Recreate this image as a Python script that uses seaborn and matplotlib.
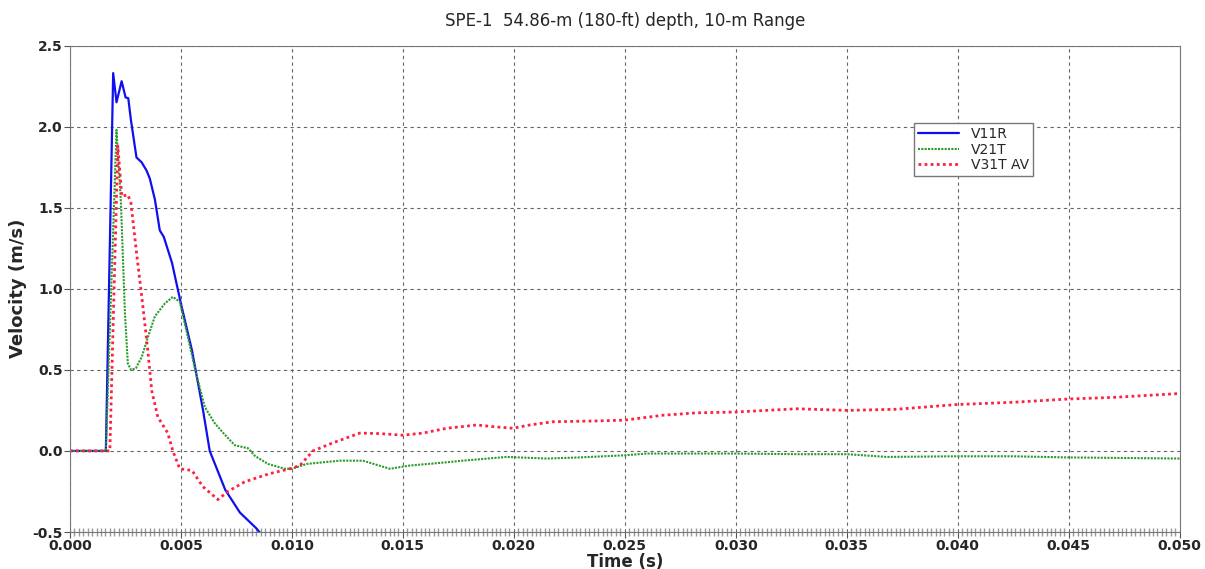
import numpy as np
import pandas as pd
import matplotlib
matplotlib.use('Agg')
import matplotlib.pyplot as plt
import seaborn as sns
from matplotlib.ticker import FormatStrFormatter, MultipleLocator

# V11R (blue)
t_v11r = [0.0, 0.00162, 0.00195, 0.0021, 0.00233, 0.00251, 0.00263, 0.00275, 0.0030, 0.00323,
          0.00345, 0.0036, 0.00383, 0.00405, 0.00423, 0.0046, 0.0050, 0.0055, 0.0060, 0.0063,
          0.0070, 0.00766, 0.00842, 0.00865, 0.00923]
v_v11r = [0.0, 0.0, 2.33, 2.15, 2.28, 2.18, 2.175, 2.04, 1.81, 1.78,
          1.73, 1.68, 1.55, 1.36, 1.32, 1.16, 0.91, 0.62, 0.25, 0.0,
          -0.24, -0.38, -0.48, -0.52, -0.65]

# V21T (green)
t_v21t = [0.0, 0.00162, 0.0021, 0.0023, 0.00248, 0.00261, 0.00275, 0.00297, 0.00324, 0.00351,
          0.00383, 0.00428, 0.00464, 0.00495, 0.00532, 0.00568, 0.00608, 0.00653, 0.00698, 0.00743,
          0.00802, 0.00833, 0.00892, 0.00968, 0.0100, 0.01068, 0.01216, 0.0132, 0.01441, 0.01532,
          0.01698, 0.0177, 0.01968, 0.02149, 0.02297, 0.0250, 0.0260, 0.0300, 0.03275, 0.0350,
          0.0368, 0.03995, 0.04248, 0.04495, 0.0500]
v_v21t = [0.0, 0.0, 1.98, 1.53, 0.85, 0.54, 0.50, 0.51, 0.58, 0.70,
          0.83, 0.91, 0.95, 0.92, 0.70, 0.48, 0.27, 0.17, 0.10, 0.035,
          0.017, -0.03, -0.08, -0.11, -0.11, -0.08, -0.06, -0.06, -0.11, -0.09,
          -0.07, -0.06, -0.037, -0.047, -0.04, -0.027, -0.016, -0.016, -0.02, -0.02,
          -0.037, -0.033, -0.033, -0.04, -0.047]

# V31T AV (red)
t_v31t = [0.0, 0.0018, 0.00216, 0.00234, 0.00261, 0.00275, 0.00302, 0.00324, 0.00351, 0.00369,
          0.00396, 0.00441, 0.00464, 0.00495, 0.0055, 0.00599, 0.00667, 0.00712, 0.00788, 0.0090,
          0.00991, 0.01036, 0.01095, 0.01185, 0.01306, 0.01396, 0.0150, 0.0159, 0.01698, 0.01833,
          0.01905, 0.01995, 0.02072, 0.02176, 0.02374, 0.0250, 0.02671, 0.02824, 0.0300, 0.03275,
          0.0350, 0.03725, 0.03995, 0.04248, 0.04495, 0.04698, 0.0500]
v_v31t = [0.0, 0.0, 1.88, 1.57, 1.58, 1.53, 1.20, 0.95, 0.62, 0.37,
          0.21, 0.11, 0.0, -0.11, -0.12, -0.22, -0.30, -0.25, -0.19, -0.14,
          -0.11, -0.09, 0.0, 0.05, 0.11, 0.107, 0.097, 0.11, 0.14, 0.16,
          0.15, 0.14, 0.16, 0.18, 0.185, 0.19, 0.22, 0.235, 0.24, 0.26,
          0.25, 0.257, 0.286, 0.30, 0.32, 0.33, 0.354]

sns.set_style('white')
plt.rcParams['font.family'] = ['DejaVu Sans']

fig = plt.figure(figsize=(12.05, 5.69), dpi=100)
ax = fig.add_axes([0.058, 0.065, 0.921, 0.855])

sns.lineplot(x=t_v11r, y=v_v11r, ax=ax, color='#1010ee', lw=1.6, sort=False,
             estimator=None, label='V11R')
sns.lineplot(x=t_v21t, y=v_v21t, ax=ax, color='#2a9a2a', lw=1.5, sort=False,
             estimator=None, label='V21T', linestyle=(0, (1, 0.6)))
sns.lineplot(x=t_v31t, y=v_v31t, ax=ax, color='#ff2040', lw=2.0, sort=False,
             estimator=None, label='V31T AV', linestyle=(0, (1, 1.2)))

ax.set_xlim(0, 0.05)
ax.set_ylim(-0.5, 2.5)
ax.xaxis.set_major_locator(MultipleLocator(0.005))
ax.yaxis.set_major_locator(MultipleLocator(0.5))
ax.xaxis.set_minor_locator(MultipleLocator(0.0002))
ax.xaxis.set_major_formatter(FormatStrFormatter('%.3f'))
ax.yaxis.set_major_formatter(FormatStrFormatter('%.1f'))
ax.tick_params(axis='x', which='minor', bottom=True, length=6, direction='inout',
               color='#999999', width=1.0)
ax.tick_params(axis='both', which='major', bottom=True, left=True, labelsize=10,
               length=4, pad=1, color='#555555')
for lbl in ax.get_xticklabels() + ax.get_yticklabels():
    lbl.set_fontweight('bold')

ax.grid(True, which='major', color='#666666', linestyle=(0, (3, 3)), linewidth=0.8)
for sp in ax.spines.values():
    sp.set_color('#777777')
    sp.set_linewidth(0.8)

ax.set_title('SPE-1  54.86-m (180-ft) depth, 10-m Range', fontsize=12, pad=14)
ax.set_xlabel('Time (s)', fontsize=12, fontweight='bold', labelpad=0)
ax.set_ylabel('Velocity (m/s)', fontsize=13, fontweight='bold', labelpad=4)

leg = ax.legend(loc='upper left', bbox_to_anchor=(0.754, 0.855), fontsize=10,
                fancybox=False, framealpha=1, edgecolor='#777777',
                borderpad=0.3, labelspacing=0.1, handlelength=3)

fig.savefig('out.png', dpi=100)
